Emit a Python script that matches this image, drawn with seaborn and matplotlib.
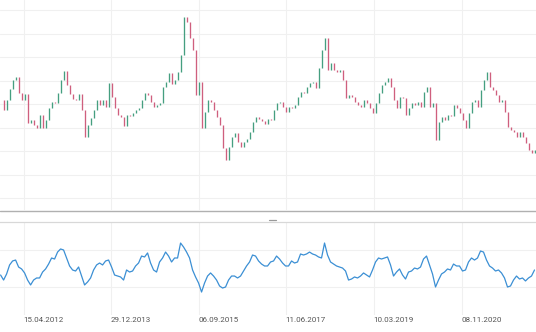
import numpy as np
import pandas as pd
import matplotlib
matplotlib.use("Agg")
import matplotlib.pyplot as plt
from matplotlib.lines import Line2D
import seaborn as sns

# weekly closes (arbitrary price units, no axis labels shown)
close = [120,110,120,131,140,143,127,120,126,97,
         100,95,92,105,92,100,112,118,117,127,
         140,149,135,126,121,120,126,110,83,95,
         102,110,120,115,120,113,137,123,112,105,
         103,94,105,104,107,110,112,120,127,125,
         118,113,115,117,133,138,147,136,140,148,
         165,203,198,182,170,125,138,92,108,120,
         118,110,103,95,72,60,73,83,87,78,
         73,78,81,88,98,103,101,99,96,101,
         100,110,117,118,113,108,113,112,115,123,
         128,127,133,137,138,132,152,170,182,150,
         157,150,148,150,140,122,125,123,118,115,
         113,120,117,112,107,117,127,135,138,142,
         133,120,112,123,122,105,112,117,115,118,
         113,128,133,113,117,80,98,103,100,105,
         104,115,112,107,100,92,107,118,120,113,
         130,140,148,133,130,125,118,120,108,93,
         90,88,83,88,83,77,70,67,70]

rsi = [43.0,37.6,44.1,53.8,58.1,59.1,51.6,49.5,45.2,37.6,
       32.3,37.6,39.8,39.8,46.2,49.5,54.8,61.3,60.2,67.7,
       71.0,69.9,61.3,52.7,48.4,47.3,51.6,41.9,32.3,35.5,
       39.8,48.4,53.8,55.9,53.8,58.1,59.1,51.6,43.0,41.9,
       40.9,37.6,48.4,46.2,47.3,52.7,55.9,63.4,62.4,66.7,
       55.9,48.4,46.2,57.0,61.3,67.7,63.4,57.0,61.3,61.3,
       77.4,73.1,67.7,61.3,48.4,40.9,34.4,24.7,34.4,41.9,
       45.2,41.9,37.6,31.2,29.0,30.1,37.6,41.9,41.9,39.8,
       41.9,47.3,52.7,57.0,64.5,63.4,58.1,54.8,52.7,52.7,
       57.0,58.1,63.4,60.2,55.9,52.7,52.7,58.1,55.9,57.0,
       65.6,64.5,65.6,67.7,65.6,64.5,62.4,61.3,77.4,64.5,
       57.0,54.8,52.7,51.6,50.5,47.3,37.6,38.7,40.9,39.8,
       41.9,45.2,43.0,40.9,48.4,57.0,61.3,60.2,61.3,62.4,
       53.8,41.9,46.2,49.5,43.0,38.7,46.2,47.3,50.5,49.5,
       51.6,60.2,63.4,53.8,44.1,30.1,37.6,44.1,46.2,49.5,
       48.4,54.8,52.7,52.7,47.3,48.4,57.0,61.3,59.1,61.3,
       68.8,67.7,59.1,52.7,50.5,47.3,48.4,45.2,39.8,30.1,
       31.2,37.6,41.9,38.7,39.8,36.6,39.8,41.9,48.4]

tick_labels = ["15.04.2012", "29.12.2013", "06.09.2015",
               "11.06.2017", "10.03.2019", "08.11.2020"]
tick_pos = [7.67, 36.67, 66.0, 95.0, 124.33, 153.67]

df = pd.DataFrame({"idx": np.arange(len(close)), "close": close, "rsi": rsi})
df["open"] = df["close"].shift(1).fillna(df["close"])
df["lo"] = df[["open", "close"]].min(axis=1)
df["hi"] = df[["open", "close"]].max(axis=1)
df["up"] = df["close"] >= df["open"]

sns.set_theme(style="white")
plt.rcParams["font.family"] = ["Roboto", "DejaVu Sans"]

W, H = 536, 332
fig = plt.figure(figsize=(W / 100, H / 100), dpi=100)
ax1 = fig.add_axes([0, 1 - 210 / H, 1, 210 / H])
ax2 = fig.add_axes([0, 1 - 315 / H, 1, 93 / H])

grid_c = "#f0f0f0"
xlim = (-0.2, 178.5)

# top panel: candles
up_c, dn_c = "#459f80", "#cf5f7e"
colors = np.where(df["up"], up_c, dn_c)
ax1.vlines(df["idx"], df["lo"], df["hi"], colors=colors, linewidth=0.95)
ax1.set_xlim(*xlim)
ax1.set_ylim(10, 220)
ax1.set_yticks(22 + 23.45 * np.arange(9))
ax1.set_xticks(tick_pos)
ax1.grid(True, color=grid_c, linewidth=0.8)
ax1.set_axisbelow(True)
ax1.tick_params(labelbottom=False, labelleft=False, length=0)
for s in ax1.spines.values():
    s.set_visible(False)

# bottom panel: oscillator
sns.lineplot(data=df, x="idx", y="rsi", ax=ax2, color="#3b8fd4", linewidth=0.9)
ax2.set_xlim(*xlim)
ax2.set_ylim(0, 100)
ax2.set_yticks([30, 70])
ax2.set_xticks(tick_pos)
ax2.set_xticklabels(tick_labels, ha="left", fontsize=5.8, color="#555555")
ax2.grid(True, color=grid_c, linewidth=0.8)
ax2.set_axisbelow(True)
ax2.tick_params(labelleft=False, length=0, pad=1.5)
ax2.set_xlabel("")
ax2.set_ylabel("")
for k, s in ax2.spines.items():
    s.set_visible(k == "top")
ax2.spines["top"].set_color("#d8d8d8")
ax2.spines["top"].set_linewidth(0.9)

# separator & handle
fig.add_artist(Line2D([0, 1], [1 - 211 / H, 1 - 211 / H], color="#b0b0b0", linewidth=1.0))
fig.add_artist(Line2D([269 / W, 276 / W], [1 - 220 / H, 1 - 220 / H], color="#999999", linewidth=0.9))

fig.savefig("out.png", dpi=100)
